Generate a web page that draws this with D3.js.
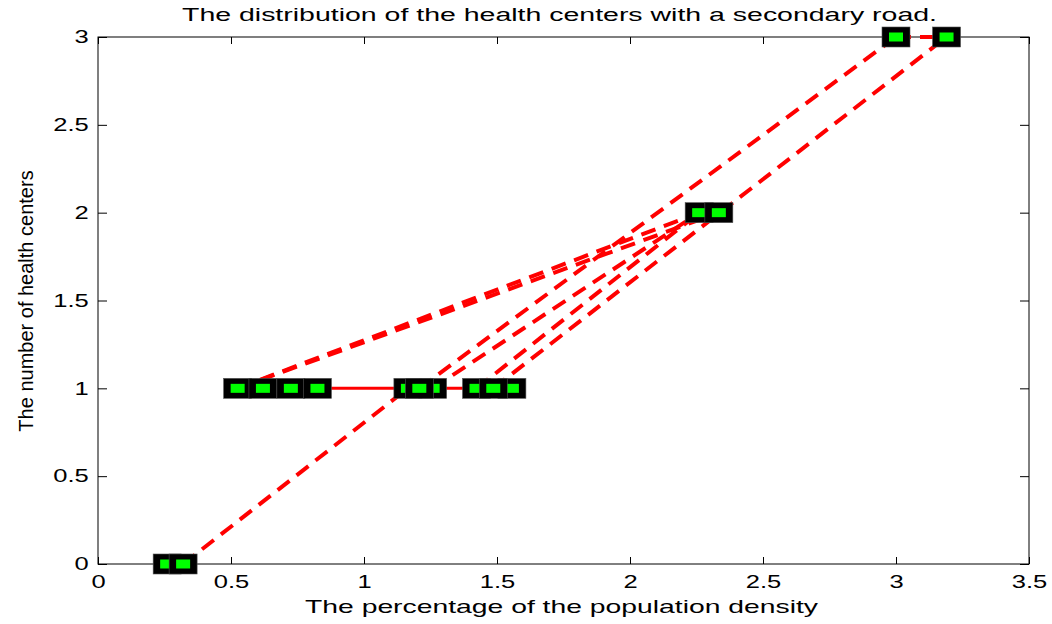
<!DOCTYPE html>
<html>
<head>
<meta charset="utf-8">
<script src="https://cdn.jsdelivr.net/npm/d3@7"></script>
<style>
  body { margin: 0; background: #fff; }
  text { font-family: "Liberation Sans", Arial, sans-serif; fill: #000; }
</style>
</head>
<body>
<div id="chart"></div>
<script>
// node positions (listed in drawing order, later ones cover earlier ones)
const nodeX = [0.26, 0.32, 0.525, 0.62, 0.725, 0.825, 1.165, 1.258, 1.208, 1.423, 1.556, 1.486, 2.26, 2.334, 3.0, 3.19];
const nodeY = [0, 0, 1, 1, 1, 1, 1, 1, 1, 1, 1, 1, 2, 2, 3, 3];

// dashed links between nodes (index pairs)
const dashFrom = [1, 8, 7, 9, 11, 2, 2, 14];
const dashTo   = [6, 14, 12, 12, 15, 12, 13, 15];

// solid links along y = 1
const solidFrom = [5, 7];
const solidTo   = [6, 9];

const xTicks = [0, 0.5, 1, 1.5, 2, 2.5, 3, 3.5];
const xTickLabels = ["0", "0.5", "1", "1.5", "2", "2.5", "3", "3.5"];
const yTicks = [0, 0.5, 1, 1.5, 2, 2.5, 3];
const yTickLabels = ["0", "0.5", "1", "1.5", "2", "2.5", "3"];

const titleText = "The distribution of the health centers with a secondary road.";
const xLabelText = "The percentage of the population density";
const yLabelText = "The number of health centers";

// sizes
const W = 1052, H = 624;
const margin = {top: 37, right: 23, bottom: 60, left: 98},
    width = W - margin.left - margin.right,
    height = H - margin.top - margin.bottom;
const stretch = 1.42;

const svg = d3.select("#chart")
    .append("svg")
    .attr("width", W)
    .attr("height", H);

const g = svg.append("g")
    .attr("transform", `translate(${margin.left},${margin.top})`);

const x = d3.scaleLinear().domain([0, 3.5]).range([0, width]);
const y = d3.scaleLinear().domain([0, 3]).range([height, 0]);

// axes with inward ticks on all four sides
const xAxis = g.append("g")
    .attr("transform", `translate(0,${height})`)
    .call(d3.axisBottom(x).tickValues(xTicks)
        .tickFormat((d, i) => xTickLabels[i])
        .tickSizeInner(-7).tickSizeOuter(0).tickPadding(11));
g.append("g")
    .call(d3.axisTop(x).tickValues(xTicks).tickFormat("")
        .tickSizeInner(-7).tickSizeOuter(0));
const yAxis = g.append("g")
    .call(d3.axisLeft(y).tickValues(yTicks)
        .tickFormat((d, i) => yTickLabels[i])
        .tickSizeInner(-9).tickSizeOuter(0).tickPadding(6.5));
g.append("g")
    .attr("transform", `translate(${width},0)`)
    .call(d3.axisRight(y).tickValues(yTicks).tickFormat("")
        .tickSizeInner(-9).tickSizeOuter(0));

g.selectAll(".domain").remove();
g.selectAll(".tick line").attr("stroke", "#000");
[xAxis, yAxis].forEach(a => a.selectAll("text")
    .attr("font-size", "18px")
    .attr("font-family", "Liberation Sans, Arial, sans-serif")
    .attr("fill", "#000")
    .attr("transform", `scale(${stretch},1)`));

// plot box
g.append("rect")
    .attr("x", 0).attr("y", 0)
    .attr("width", width).attr("height", height)
    .attr("fill", "none")
    .attr("stroke", "#000")
    .attr("stroke-width", 1);

// solid red links
g.append("g")
    .selectAll("line")
    .data(solidFrom)
    .join("line")
    .attr("x1", (d, i) => x(nodeX[d]))
    .attr("y1", (d, i) => y(nodeY[d]))
    .attr("x2", (d, i) => x(nodeX[solidTo[i]]))
    .attr("y2", (d, i) => y(nodeY[solidTo[i]]))
    .attr("stroke", "#ff0000")
    .attr("stroke-width", 3);

// dashed red links
g.append("g")
    .selectAll("line")
    .data(dashFrom)
    .join("line")
    .attr("x1", (d, i) => x(nodeX[d]))
    .attr("y1", (d, i) => y(nodeY[d]))
    .attr("x2", (d, i) => x(nodeX[dashTo[i]]))
    .attr("y2", (d, i) => y(nodeY[dashTo[i]]))
    .attr("stroke", "#ff0000")
    .attr("stroke-width", 4)
    .attr("stroke-dasharray", "15,9");

// square markers, black edge with green face
const markers = g.append("g")
    .selectAll("g")
    .data(nodeX)
    .join("g")
    .attr("transform", (d, i) => `translate(${x(d)},${y(nodeY[i])})`);
markers.append("rect")
    .attr("x", -14).attr("y", -10)
    .attr("width", 28).attr("height", 20)
    .attr("fill", "#000")
    .attr("stroke", "#555")
    .attr("stroke-width", 0.6);
markers.append("rect")
    .attr("x", -7).attr("y", -4.5)
    .attr("width", 14).attr("height", 9)
    .attr("fill", "#00ff00");

// title and axis labels
svg.append("text")
    .attr("x", margin.left + width / 2 - 4)
    .attr("y", 21)
    .attr("text-anchor", "middle")
    .attr("font-size", "18px")
    .attr("textLength", 755)
    .attr("lengthAdjust", "spacingAndGlyphs")
    .text(titleText);

svg.append("text")
    .attr("x", margin.left + width / 2 - 2)
    .attr("y", 613)
    .attr("text-anchor", "middle")
    .attr("font-size", "19px")
    .attr("textLength", 513)
    .attr("lengthAdjust", "spacingAndGlyphs")
    .text(xLabelText);

svg.append("text")
    .attr("transform", "translate(33,301) rotate(-90)")
    .attr("text-anchor", "middle")
    .attr("font-size", "20px")
    .text(yLabelText);
</script>
</body>
</html>
